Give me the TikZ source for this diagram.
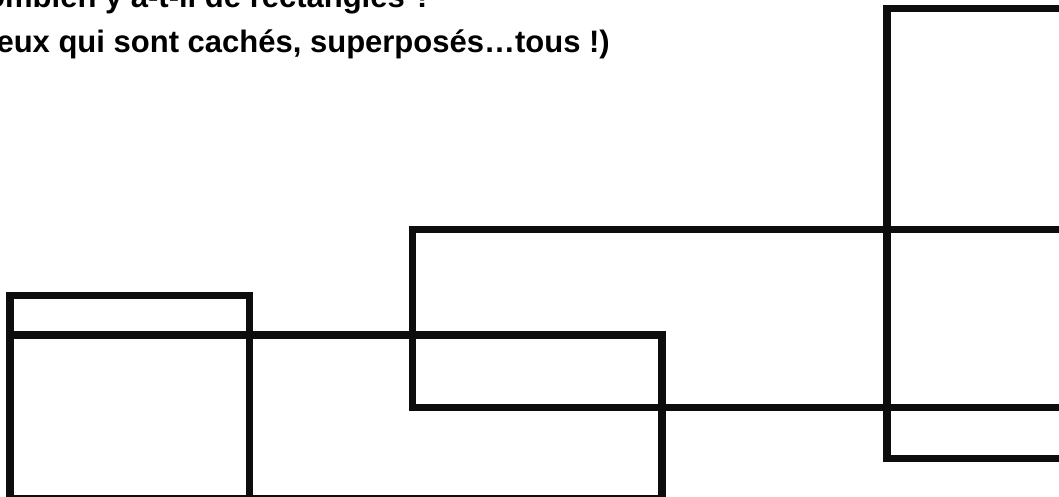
\documentclass[tikz,border=0pt]{standalone}
\usepackage{fontspec}
\setmainfont{Liberation Sans}
\usetikzlibrary{positioning}
\definecolor{ink}{RGB}{13,13,13}
\begin{document}
\begin{tikzpicture}[
  x=1pt, y=-1pt,
  box/.style={draw=ink, line width=7.5pt},
  quest/.style={inner sep=0pt, font=\fontsize{31}{37}\selectfont\bfseries}
]
  \useasboundingbox (0,0) rectangle (1059,497);
  \clip (0,0) rectangle (1059,497);

  % Question text (cut at the left and top)
  \node[quest, anchor=base east] (q2) at (610,53) {(Ceux qui sont cachés, superposés…tous !)};
  \node[quest, anchor=base west] (q1) at ([yshift=45pt]q2.base west) {Combien y a-t-il de rectangles ?};

  % Rectangles
  \draw[box] (10,295.5) rectangle (249.5,499);
  \draw[box] (10,335) rectangle (662,499);
  \draw[box] (412.5,229.5) rectangle (1100,407.5);
  \draw[box] (887,8.5) rectangle (1100,458.5);
\end{tikzpicture}
\end{document}
